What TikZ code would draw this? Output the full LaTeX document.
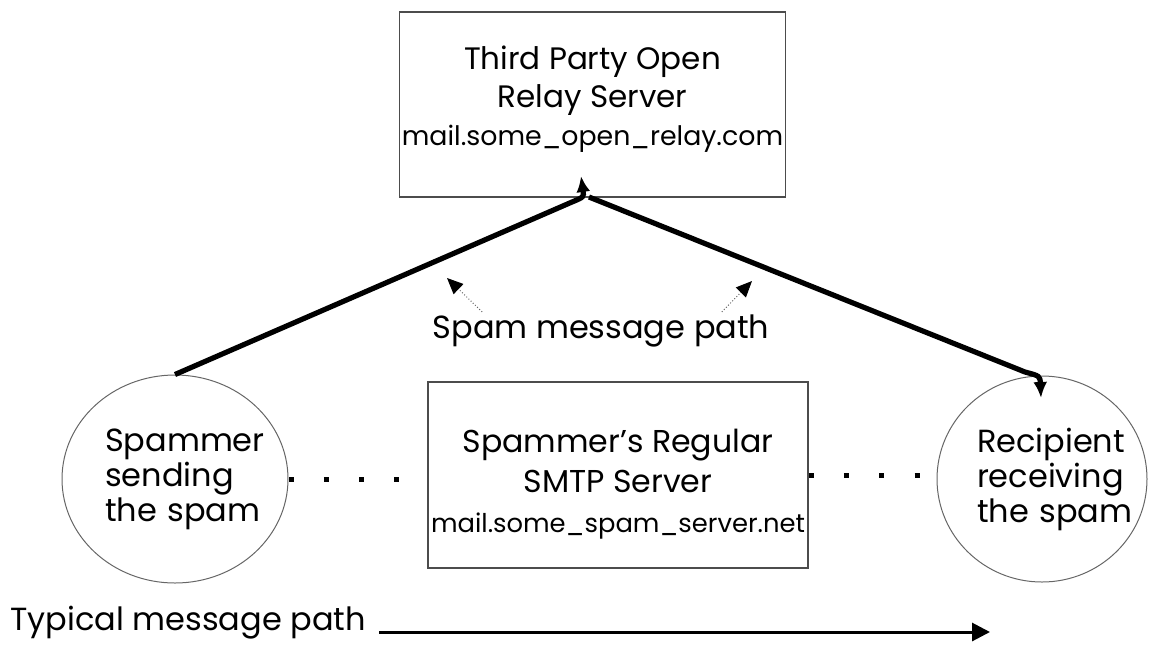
\documentclass[tikz,border=0pt]{standalone}
\usepackage{fontspec}
\setmainfont{Poppins}
\usetikzlibrary{shapes.geometric,arrows.meta}

\begin{document}
\begin{tikzpicture}[x=0.5pt, y=-0.5pt, >={Latex[length=8pt,width=7pt]},
                    font=\fontsize{16}{17.5}\selectfont]
  \tikzstyle{srv}=[draw=black!70, line width=0.6pt, inner sep=0pt, align=center]
  \tikzstyle{host}=[draw=black!60, line width=0.5pt, ellipse, inner sep=0pt, align=left]
  \tikzstyle{spampath}=[line width=2.6pt, ->]
  \tikzstyle{hint}=[densely dotted, black!60, line width=0.5pt,
                    -{Triangle[length=8pt,width=7pt,black]}]
  \tikzstyle{hop}=[line width=2.5pt, dash pattern=on 2.5pt off 15.15pt]
  \tikzstyle{lbl}=[inner sep=0pt, font=\fontsize{16}{19}\selectfont]

  \useasboundingbox (0,0) rectangle (1150,644);

  % --- servers ---
  \node[srv, minimum width=193pt, minimum height=92.5pt, text depth=9pt,
        font=\fontsize{15.5}{19}\selectfont] (relay) at (592.5,104.5)
       {Third Party Open\\Relay Server\\{\fontsize{13.4}{19}\selectfont mail.some\_open\_relay.com}};
  \node[srv, minimum width=190pt, minimum height=93pt, text height=59pt, text depth=2pt,
        font=\fontsize{15.8}{20}\selectfont] (smtp) at (618,475)
       {Spammer’s Regular\\SMTP Server\\{\fontsize{12.9}{17.5}\selectfont mail.some\_spam\_server.net}};

  % --- end hosts ---
  \node[host, minimum width=113pt, minimum height=104pt, text width=70pt] (spammer) at (175,479)
       {Spammer\\sending\\the~spam};
  \node[host, minimum width=105pt, minimum height=103pt, text width=65pt] (rcpt) at (1042,479)
       {Recipient\\receiving\\the~spam};

  % --- regular route (dots) ---
  \draw[hop] (spammer.east) -- (spammer.east -| smtp.west);
  \draw[hop] (smtp.east) -- (smtp.east -| rcpt.west);

  % --- spam route through the relay ---
  \coordinate (upL)    at (572,202);
  \coordinate (upTip)  at (581,176);
  \coordinate (hub)    at (589,197);
  \coordinate (downR)  at (1025,372);
  \coordinate (dnTip)  at (1041,398);
  \draw[spampath] (spammer.north) -- (upL) .. controls (584,197) .. (upTip);
  \draw[spampath] (hub) -- (downR) .. controls (1040,376) .. (dnTip);

  \node[lbl, anchor=base] (spamlbl) at (601,338) {Spam message path};
  \coordinate (hintL) at (447,278);
  \coordinate (hintR) at (752,281);
  \draw[hint] ([xshift=25pt,yshift=1pt]spamlbl.north west) -- (hintL);
  \draw[hint] ([xshift=-24pt,yshift=1pt]spamlbl.north east) -- (hintR);

  % --- legend ---
  \node[lbl, anchor=base west] (typical) at (10,630) {Typical message path};
  \coordinate (typEnd) at (990,632);
  \draw[line width=1.5pt, -{Triangle[length=9pt,width=9pt]}]
       ([xshift=6.5pt,yshift=-1pt]typical.base east) -- ([yshift=-1pt]typical.base east -| typEnd);
\end{tikzpicture}
\end{document}
